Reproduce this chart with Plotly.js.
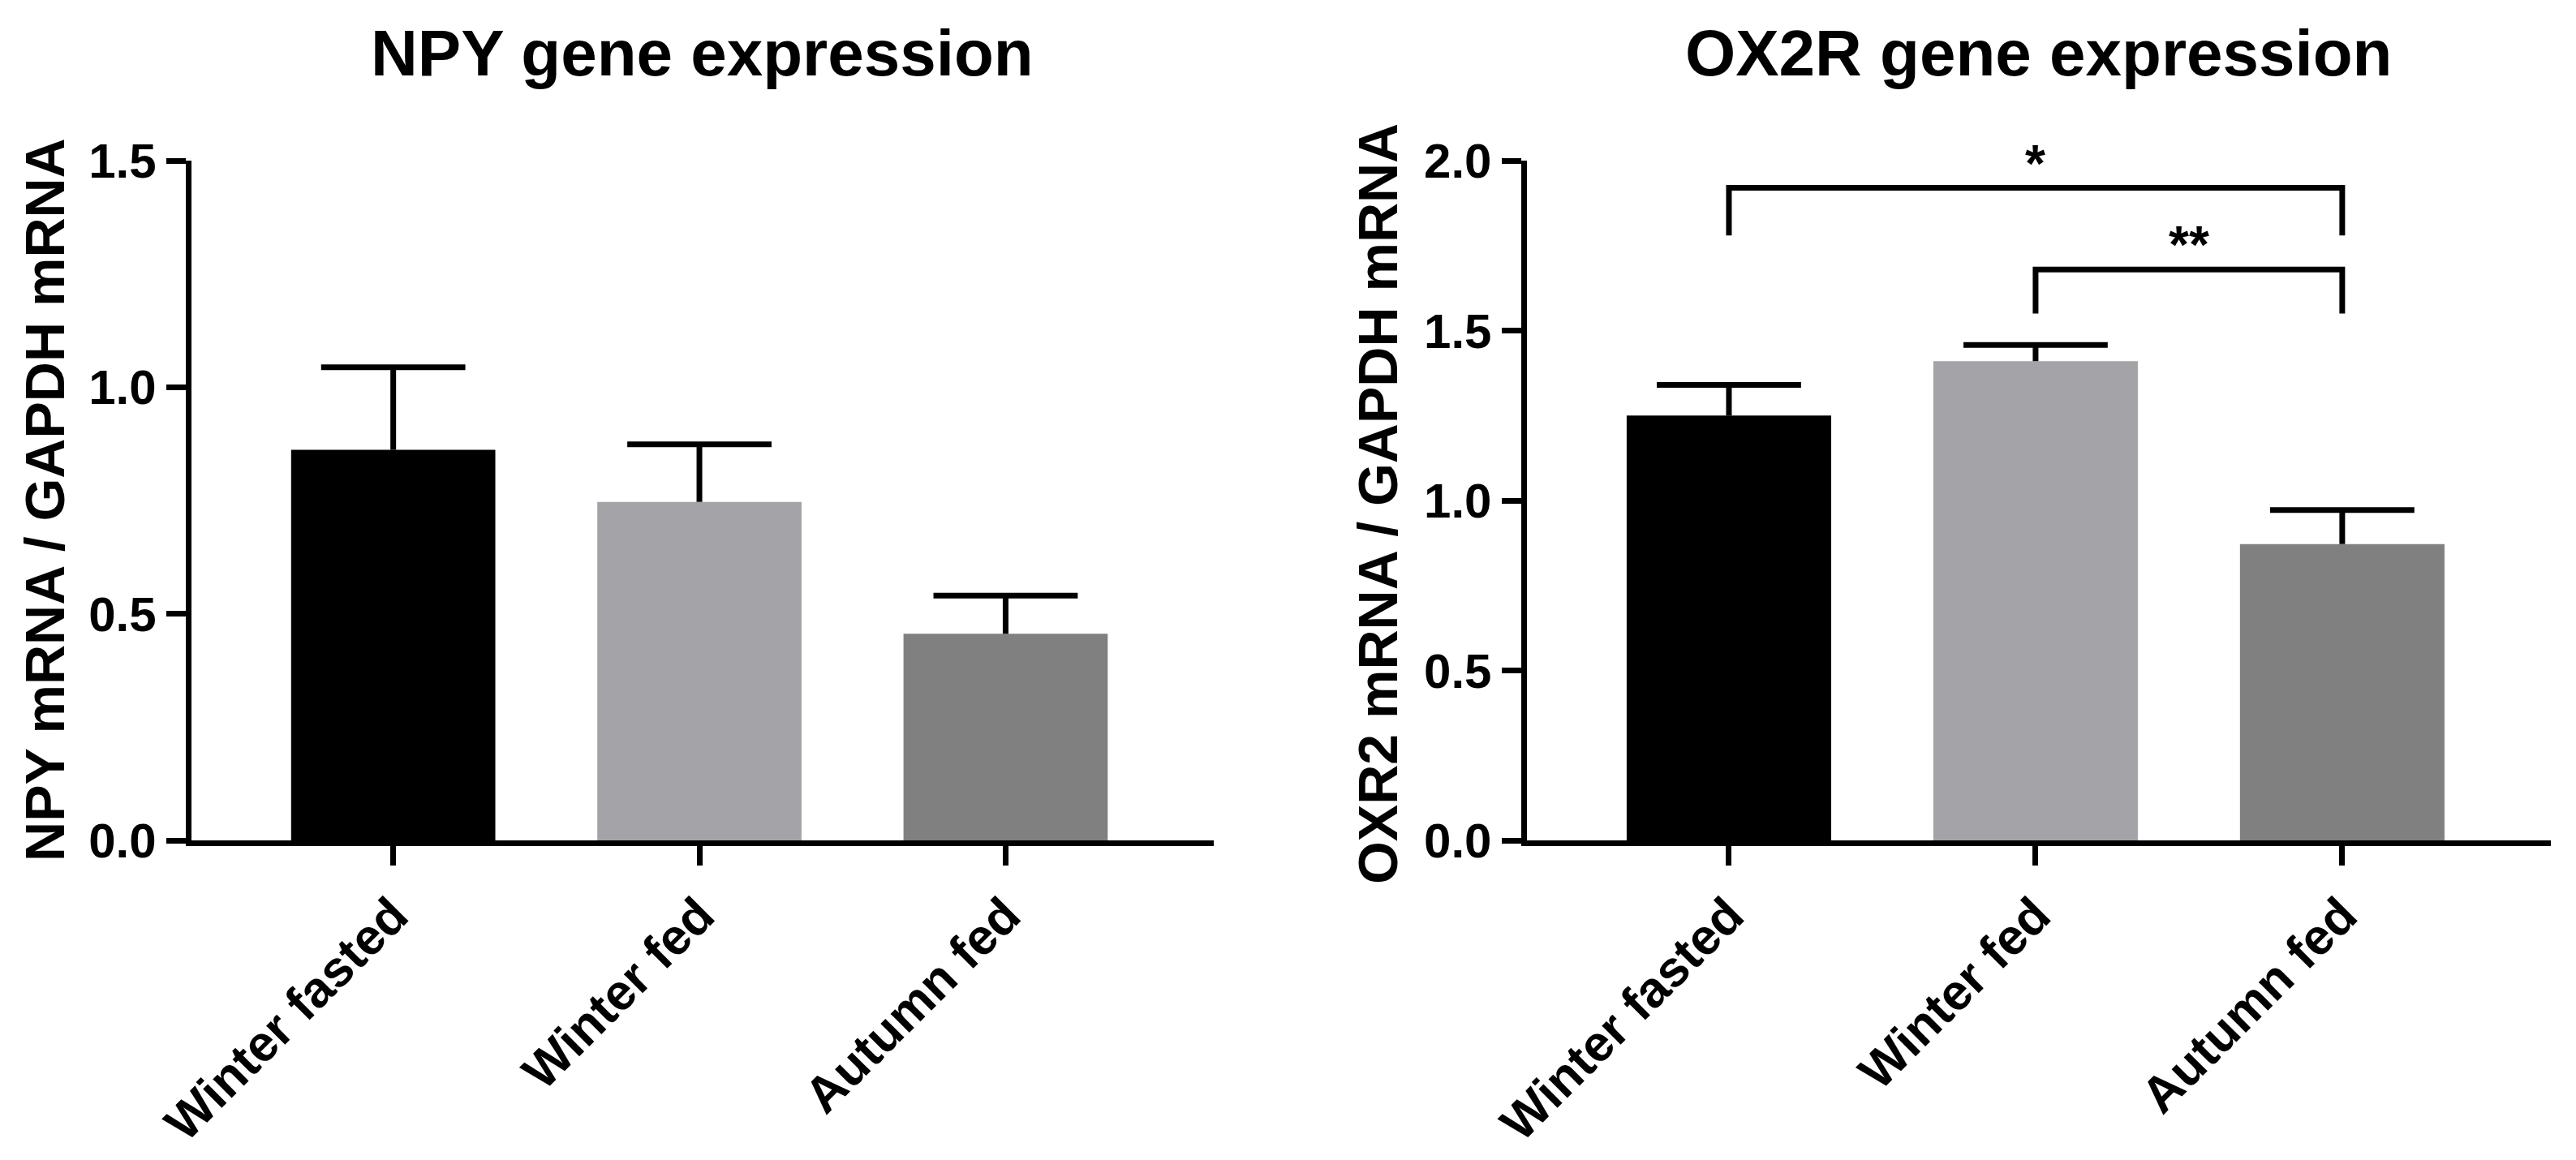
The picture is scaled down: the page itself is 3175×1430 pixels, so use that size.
<!DOCTYPE html>
<html>
<head>
<meta charset="utf-8">
<script src="https://cdn.plot.ly/plotly-3.0.1.min.js"></script>
<style>html,body{margin:0;padding:0;background:#fff;}#chart{width:3175px;height:1430px;}</style>
</head>
<body>
<div id="chart"></div>
<script>
// ---- data ----
const categories = ["Winter fasted", "Winter fed", "Autumn fed"];
const barColors = ["#000000", "#A4A3A8", "#808080"];

const npyMean = [0.862, 0.747, 0.456];
const npyErr  = [0.182, 0.127, 0.084];

const ox2rMean = [1.25, 1.41, 0.872];
const ox2rErr  = [0.09, 0.048, 0.10];

// significance brackets (right panel)
const sigFrom  = [0, 1];
const sigTo    = [2, 2];
const sigTop   = [1.92, 1.68];
const sigEnd   = [1.78, 1.55];
const sigLabel = ["*", "**"];

const npyTicks  = [0, 0.5, 1.0, 1.5];
const ox2rTicks = [0, 0.5, 1.0, 1.5, 2.0];

// ---- styling ----
const FONT = "Arial, 'Liberation Sans', sans-serif";
const LW = 7;

function panelTraces(vals, errs, xa, ya) {
  const out = [];
  out.push({
    type: "bar", x: categories, y: vals, xaxis: xa, yaxis: ya,
    marker: { color: barColors, line: { width: 0 } },
    hoverinfo: "skip", showlegend: false
  });
  // upper-only error bars: stems
  const sx = [], sy = [];
  categories.forEach((c, i) => { sx.push(c, c, null); sy.push(vals[i], vals[i] + errs[i], null); });
  out.push({
    type: "scatter", mode: "lines", x: sx, y: sy, xaxis: xa, yaxis: ya,
    line: { color: "#000", width: LW }, cliponaxis: false,
    hoverinfo: "skip", showlegend: false
  });
  // caps
  out.push({
    type: "scatter", mode: "markers", x: categories, y: vals.map((v, i) => v + errs[i]),
    xaxis: xa, yaxis: ya,
    marker: { symbol: "line-ew", size: 127, color: "#000", line: { color: "#000", width: LW } },
    cliponaxis: false, hoverinfo: "skip", showlegend: false
  });
  return out;
}

const traces = [].concat(
  panelTraces(npyMean, npyErr, "x", "y"),
  panelTraces(ox2rMean, ox2rErr, "x2", "y2")
);

sigFrom.forEach((f, i) => {
  const t = sigTo[i];
  traces.push({
    type: "scatter", mode: "lines", xaxis: "x2", yaxis: "y2",
    x: [categories[f], categories[f], categories[t], categories[t]],
    y: [sigEnd[i], sigTop[i], sigTop[i], sigEnd[i]],
    line: { color: "#000", width: LW },
    cliponaxis: false, hoverinfo: "skip", showlegend: false
  });
});

function xAxis(domain) {
  return {
    domain: domain, type: "category", range: [-0.66, 2.68],
    showline: true, linecolor: "#000", linewidth: LW,
    ticks: "outside", ticklen: 24, tickwidth: LW, tickcolor: "#000",
    tickangle: -45, showgrid: false, zeroline: false,
    tickfont: { family: FONT, size: 62, color: "#000", weight: 700 },
    fixedrange: true
  };
}
function yAxis(range, ticks, anchor) {
  return {
    domain: [0.2755, 0.8615], range: range, anchor: anchor,
    tickvals: ticks, ticktext: ticks.map(v => v.toFixed(1)),
    showline: true, linecolor: "#000", linewidth: LW,
    ticks: "outside", ticklen: 24, tickwidth: LW, tickcolor: "#000",
    showgrid: false, zeroline: false,
    tickfont: { family: FONT, size: 60, color: "#000", weight: 700 },
    fixedrange: true
  };
}

const annotations = [
  { text: "NPY gene expression", xref: "x domain", yref: "paper", x: 0.5, y: 0.922,
    xanchor: "center", yanchor: "bottom", showarrow: false,
    font: { family: FONT, size: 80, color: "#000", weight: 700 } },
  { text: "OX2R gene expression", xref: "x2 domain", yref: "paper", x: 0.5, y: 0.922,
    xanchor: "center", yanchor: "bottom", showarrow: false,
    font: { family: FONT, size: 80, color: "#000", weight: 700 } },
  { text: "NPY mRNA / GAPDH mRNA", xref: "paper", yref: "paper", x: 0.0173, y: 0.5692,
    xanchor: "center", yanchor: "middle", textangle: -90, showarrow: false,
    font: { family: FONT, size: 68, color: "#000", weight: 700 } },
  { text: "OXR2 mRNA / GAPDH mRNA", xref: "paper", yref: "paper", x: 0.5348, y: 0.5657,
    xanchor: "center", yanchor: "middle", textangle: -90, showarrow: false,
    font: { family: FONT, size: 68, color: "#000", weight: 700 } }
];
sigFrom.forEach((f, i) => {
  annotations.push({
    text: sigLabel[i], xref: "x2", yref: "y2", x: (f + sigTo[i]) / 2, y: sigTop[i],
    xanchor: "center", yanchor: "bottom", yshift: -8, showarrow: false,
    font: { family: FONT, size: 64, color: "#000", weight: 700 }
  });
});

const layout = {
  width: 3175, height: 1430,
  margin: { l: 0, r: 0, t: 0, b: 0 },
  paper_bgcolor: "#fff", plot_bgcolor: "#fff",
  bargap: 0.333,
  xaxis: xAxis([0.0742, 0.4712]),
  yaxis: yAxis([0, 1.5], npyTicks, "x"),
  xaxis2: xAxis([0.5926, 0.9902]),
  yaxis2: yAxis([0, 2.0], ox2rTicks, "x2"),
  annotations: annotations,
  showlegend: false
};
layout.xaxis.anchor = "y";
layout.xaxis2.anchor = "y2";

Plotly.newPlot("chart", traces, layout, { displayModeBar: false, staticPlot: true });
</script>
</body>
</html>
